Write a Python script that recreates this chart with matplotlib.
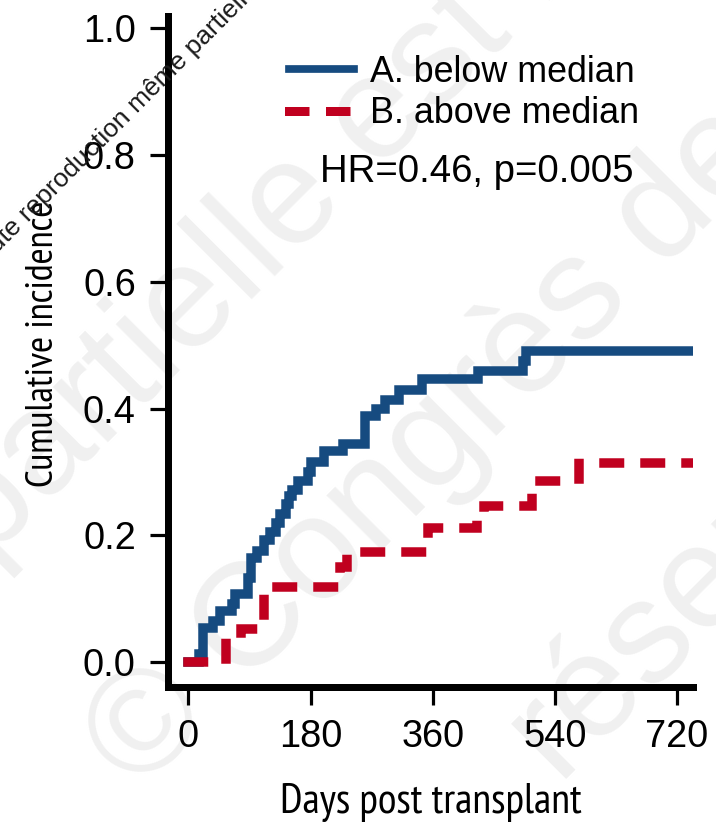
import matplotlib
matplotlib.use("Agg")
import matplotlib.pyplot as plt
from matplotlib import font_manager as fm
from matplotlib.lines import Line2D
from matplotlib.textpath import TextPath
from matplotlib.font_manager import FontProperties

# ---------------- data ----------------
blue_days = [0, 15, 22, 36, 46, 64, 69, 88, 92.5, 101, 111, 120, 129, 134.5, 143,
             148.5, 153, 162, 176.5, 181, 199, 227, 260, 276, 289, 311, 344, 427,
             493.5, 497, 760]
blue_vals = [0, 0.012, 0.053, 0.065, 0.081, 0.092, 0.107, 0.133, 0.164, 0.175,
             0.193, 0.206, 0.220, 0.233, 0.249, 0.262, 0.272, 0.285, 0.300, 0.316,
             0.333, 0.344, 0.388, 0.399, 0.413, 0.429, 0.446, 0.460, 0.475, 0.491,
             0.491]
red_days = [0, 55, 78, 111, 216, 224, 233, 353, 425, 436, 507, 576, 760]
red_vals = [0, 0.038, 0.052, 0.118, 0.136, 0.150, 0.173, 0.211, 0.227, 0.246,
            0.285, 0.314, 0.314]
series_labels = ["A. below median", "B. above median"]
annotation = "HR=0.46, p=0.005"
x_ticks = [0, 180, 360, 540, 720]
y_ticks = [0.0, 0.2, 0.4, 0.6, 0.8, 1.0]
x_label = "Days post transplant"
y_label = "Cumulative incidence"

BLUE = "#164b80"
RED = "#c0001f"

# ---------------- fonts ----------------
available = {f.name for f in fm.fontManager.ttflist}
base_font = "Liberation Sans"
plt.rcParams['font.family'] = [base_font, 'DejaVu Sans']
plt.rcParams['lines.scale_dashes'] = False

# choose the condensed face whose proportions best match the reference label
# (ink width ~300 px for a cap height of ~33 px)
cands = ["Roboto Condensed", "Fira Sans Extra Condensed", "Sofia Sans Extra Condensed",
         "Sofia Sans Condensed", "Fira Sans Condensed", "Archivo Narrow", "PT Sans Narrow",
         "IBM Plex Sans Condensed", "Barlow Condensed", "Reddit Sans Condensed",
         "Asap Condensed", "Encode Sans Condensed", "Liberation Sans Narrow"]
best, best_err = "DejaVu Sans", 1e9
for name in cands:
    if name not in available:
        continue
    try:
        fp = FontProperties(family=name, weight='normal', style='normal', size=100)
        wdt = TextPath((0, 0), x_label, prop=fp).get_extents().width
        cap = TextPath((0, 0), "D", prop=fp).get_extents().height
        ratio = cap / wdt
        err = abs(ratio - 33.0 / 300.0)
        if err < best_err:
            best, best_err = name, err
    except Exception:
        pass
narrow_font = best

DPI = 100
fig = plt.figure(figsize=(7.16, 8.22), dpi=DPI)
W, H = 716, 822


def px2fig(x, y):
    return x / W, 1 - y / H


ax_l, ax_r, ax_t, ax_b = 167.8, 693.0, 16.2, 687.3
ax = fig.add_axes([ax_l / W, 1 - ax_b / H, (ax_r - ax_l) / W, (ax_b - ax_t) / H])
ax.set_facecolor('none')

# watermark (very light grey, behind everything)
wm_col = "#f0f0f0"
for txt, (bx, by) in [("partielle est interdite", (-13, 564)),
                      ("© Congrès des", (139, 794)),
                      ("réservés", (556, 779))]:
    fig.text(*px2fig(bx, by), txt, rotation=45, rotation_mode='anchor',
             ha='left', va='baseline', fontsize=105, color=wm_col, zorder=-10,
             family=[base_font, 'DejaVu Sans'])

lw = 9.5 * 72 / DPI
on_pt, off_pt = 15.5 * 72 / DPI, 25.5 * 72 / DPI
ax.step(blue_days, blue_vals, where='post', color=BLUE, lw=lw,
        solid_capstyle='projecting', solid_joinstyle='miter', zorder=3,
        label=series_labels[0])
ax.step(red_days, red_vals, where='post', color=RED, lw=lw,
        linestyle=(0, (on_pt, off_pt)),
        dash_capstyle='projecting', dash_joinstyle='miter', zorder=4,
        label=series_labels[1])

ax.set_xlim(-30.5, 743.6)
ax.set_ylim(-0.0399, 1.0194)
ax.set_xticks(x_ticks)
ax.set_xticklabels([str(v) for v in x_ticks])
ax.set_yticks(y_ticks)
ax.set_yticklabels([f"{v:.1f}" for v in y_ticks])

for s in ['top', 'right']:
    ax.spines[s].set_visible(False)
for s in ['left', 'bottom']:
    ax.spines[s].set_linewidth(7 * 72 / DPI)
    ax.spines[s].set_color('black')

ax.tick_params(axis='both', direction='out', length=13, width=2.3,
               colors='black', labelsize=27.4)
ax.tick_params(axis='x', pad=10)
ax.tick_params(axis='y', pad=10)

# legend
h_blue = Line2D([], [], color=BLUE, lw=7.7 * 72 / DPI, solid_capstyle='projecting')
h_red = Line2D([], [], color=RED, lw=9.0 * 72 / DPI, dash_capstyle='projecting',
               linestyle=(0, (on_pt, off_pt)))
leg = ax.legend([h_blue, h_red], series_labels, loc='upper left',
                bbox_to_anchor=px2fig(289, 55), bbox_transform=fig.transFigure,
                frameon=False, fontsize=25.8, borderpad=0, borderaxespad=0,
                handlelength=1.816, handletextpad=0.446, labelspacing=0.17)

ax.text((633 - ax_l) / (ax_r - ax_l), (ax_b - 181.7) / (ax_b - ax_t), annotation,
        transform=ax.transAxes, ha='right', va='baseline', fontsize=27.6)

# axis labels (condensed face, size fitted to the reference text length)
ax.set_xlabel(x_label, fontsize=33, family=[narrow_font, 'DejaVu Sans'])
ax.xaxis.set_label_coords(0.5, (ax_b - 813.3) / (ax_b - ax_t))
ax.xaxis.label.set_va('baseline')
ax.set_ylabel(y_label, fontsize=33, family=[narrow_font, 'DejaVu Sans'])
ax.yaxis.set_label_coords((53 - ax_l) / (ax_r - ax_l), (ax_b - 344) / (ax_b - ax_t))
ax.yaxis.label.set_va('baseline')

renderer = fig.canvas.get_renderer()
for lab, target in [(ax.xaxis.label, 302.0), (ax.yaxis.label, 287.0)]:
    for _ in range(3):
        bb = lab.get_window_extent(renderer)
        length = max(bb.width, bb.height)
        lab.set_fontsize(lab.get_fontsize() * target / length)

# diagonal overlay text
fig.text(*px2fig(-23, 273), "Toute reproduction même partielle", rotation=45,
         rotation_mode='anchor', ha='left', va='baseline', fontsize=19,
         color='#1a1a1a', zorder=20)

fig.savefig("out.png", dpi=DPI)
